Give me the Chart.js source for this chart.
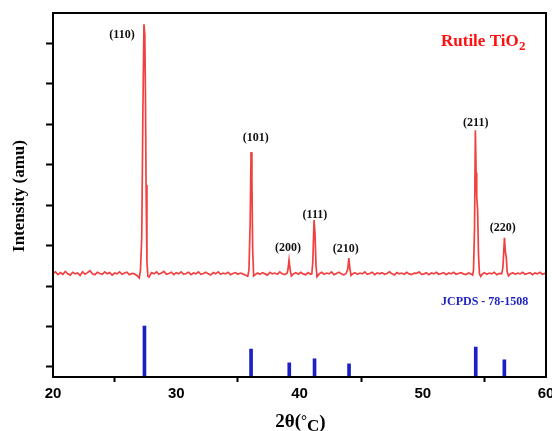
<!DOCTYPE html>
<html>
<head>
<meta charset="utf-8">
<script src="https://cdn.jsdelivr.net/npm/chart.js@4/dist/chart.umd.min.js"></script>
<style>
  html, body { margin: 0; padding: 0; background: #fff; }
  #c { display: block; }
</style>
</head>
<body>
<canvas id="c" width="552" height="431"></canvas>
<script>
// Measured XRD pattern of rutile TiO2 (2θ in degrees, intensity in counts)
const twoTheta = [
  20.0,20.2,20.4,20.6,20.8,21.0,21.2,21.4,21.6,21.8,22.0,22.2,22.4,22.6,22.8,23.0,23.2,23.4,
  23.6,23.8,24.0,24.2,24.4,24.6,24.8,25.0,25.2,25.4,25.6,25.8,26.0,26.2,26.4,26.6,26.8,27.0,
  27.1,27.2,27.3,27.38,27.45,27.5,27.55,27.62,27.7,27.8,27.9,
  28.0,28.2,28.4,28.6,28.8,29.0,29.2,29.4,29.6,29.8,30.0,30.2,30.4,30.6,30.8,31.0,31.2,31.4,
  31.6,31.8,32.0,32.2,32.4,32.6,32.8,33.0,33.2,33.4,33.6,33.8,34.0,34.2,34.4,34.6,34.8,35.0,
  35.2,35.4,35.6,35.8,
  35.9,36.0,36.07,36.14,36.2,36.28,36.4,
  36.6,36.8,37.0,37.2,37.4,37.6,37.8,38.0,38.2,38.4,38.6,38.8,39.0,
  39.07,39.15,39.24,39.34,
  39.5,39.7,39.9,40.1,40.3,40.5,40.7,40.9,
  41.0,41.08,41.18,41.26,41.34,41.42,
  41.6,41.8,42.0,42.2,42.4,42.6,42.8,43.0,43.2,43.4,43.6,43.8,
  43.92,44.0,44.08,44.18,
  44.3,44.5,44.7,44.9,45.1,45.3,45.5,45.7,45.9,46.1,46.3,46.5,46.7,46.9,47.1,47.3,47.5,47.7,
  47.9,48.1,48.3,48.5,48.7,48.9,49.1,49.3,49.5,49.7,49.9,50.1,50.3,50.5,50.7,50.9,51.1,51.3,
  51.5,51.7,51.9,52.1,52.3,52.5,52.7,52.9,53.1,53.3,53.5,53.7,53.9,
  54.05,54.12,54.2,54.27,54.33,54.38,54.45,54.52,54.6,54.7,
  54.85,55.0,55.2,55.4,55.6,55.8,56.0,56.2,56.4,
  56.5,56.58,56.63,56.7,56.78,56.85,56.95,
  57.1,57.3,57.5,57.7,57.9,58.1,58.3,58.5,58.7,58.9,59.1,59.3,59.5,59.7,59.9,60.0
];
const counts = [
  2310,2350,2280,2330,2290,2360,2300,2270,2340,2300,2320,2260,2350,2290,2330,2380,2300,2280,
  2340,2310,2290,2350,2300,2330,2270,2320,2300,2350,2290,2320,2340,2280,2310,2300,2260,2200,
  2400,3200,6500,8470,8200,6800,4500,2600,2240,2220,2280,
  2330,2300,2350,2290,2320,2360,2290,2310,2340,2280,2330,2300,2350,2290,2310,2340,2280,2320,
  2300,2350,2290,2310,2340,2300,2270,2330,2300,2350,2290,2320,2300,2340,2280,2310,2330,2290,
  2320,2300,2270,2240,
  2400,3600,5310,4600,2900,2250,2280,
  2320,2290,2330,2300,2270,2340,2300,2320,2290,2350,2300,2280,2320,
  2420,2640,2400,2250,
  2300,2330,2290,2340,2300,2280,2330,2290,
  2300,2600,3630,3300,2500,2230,
  2300,2340,2290,2320,2300,2350,2280,2310,2340,2300,2270,2320,
  2420,2690,2450,2260,
  2300,2330,2290,2320,2300,2350,2290,2310,2340,2280,2320,2300,2330,2290,2310,2350,2300,2270,
  2330,2300,2320,2290,2340,2300,2280,2320,2310,2350,2290,2300,2330,2280,2320,2300,2340,2290,
  2310,2330,2280,2320,2300,2340,2290,2310,2330,2300,2280,2320,2300,
  2270,2400,3400,5850,4800,4200,3900,2800,2300,2240,
  2300,2330,2290,2320,2300,2340,2280,2310,2300,
  2450,2900,3190,2850,2700,2350,2250,
  2300,2330,2290,2320,2300,2340,2290,2310,2330,2280,2320,2300,2340,2290,2310,2300
];

// Reference stick pattern (JCPDS 78-1508), drawn up from the bottom of the axis
const refAngles = [27.42, 36.07, 39.17, 41.22, 44.02, 54.30, 56.62];
const refTops   = [1010, 440, 100, 200, 75, 490, 175];

// Miller indices of the indexed reflections
const hklLabels = ['(110)', '(101)', '(200)', '(111)', '(210)', '(211)', '(220)'];

// Axis ticks
const xTickValues = [20, 30, 40, 50, 60];
const yTickValues = [0, 1000, 2000, 3000, 4000, 5000, 6000, 7000, 8000];

// Layout: where each index label sits (2θ, counts)
const hklAnchors = [
  [25.6, 8200], [36.46, 5650], [39.06, 2940], [41.25, 3750],
  [43.76, 2910], [54.30, 6030], [56.50, 3430]
];
const Y_MIN = -250, Y_MAX = 8750;

const serif = '"Liberation Serif", "Times New Roman", serif';
const sans = '"Liberation Sans", Arial, sans-serif';

const annotate = {
  id: 'annotate',
  afterDatasetsDraw(chart) {
    const { ctx, chartArea: a, scales: { x, y } } = chart;
    ctx.save();
    // frame
    ctx.strokeStyle = '#000';
    ctx.lineWidth = 2;
    ctx.strokeRect(a.left, a.top, a.right - a.left, a.bottom - a.top);

    // reflection indices
    ctx.fillStyle = '#111';
    ctx.font = 'bold 12px ' + serif;
    ctx.textAlign = 'center';
    ctx.textBaseline = 'middle';
    hklLabels.forEach((t, i) => {
      ctx.fillText(t, x.getPixelForValue(hklAnchors[i][0]), y.getPixelForValue(hklAnchors[i][1]));
    });

    // sample name with subscript
    ctx.textAlign = 'left';
    ctx.textBaseline = 'alphabetic';
    ctx.fillStyle = '#ff1010';
    ctx.font = 'bold 17px ' + serif;
    const nx = a.right - 105, ny = a.top + 33;
    ctx.fillText('Rutile TiO', nx, ny);
    const w = ctx.measureText('Rutile TiO').width;
    ctx.font = 'bold 13px ' + serif;
    ctx.fillText('2', nx + w + 0.5, ny + 4);

    // reference card
    ctx.fillStyle = '#1f24c0';
    ctx.font = 'bold 12px ' + serif;
    ctx.textBaseline = 'middle';
    ctx.fillText('JCPDS - 78-1508', a.right - 105, 302);

    // x-axis title: 2θ(°C)
    ctx.fillStyle = '#000';
    ctx.textBaseline = 'alphabetic';
    ctx.font = 'bold 19px ' + serif;
    const p1 = '2θ(', p2 = '°', p3 = 'C', p4 = ')';
    const w1 = ctx.measureText(p1).width;
    ctx.font = 'bold 15px ' + serif;
    const w2 = ctx.measureText(p2).width;
    ctx.font = 'bold 17px ' + serif;
    const w3 = ctx.measureText(p3).width;
    ctx.font = 'bold 19px ' + serif;
    const w4 = ctx.measureText(p4).width;
    let tx = (a.left + a.right) / 2 + 1 - (w1 + w2 + w3 + w4) / 2;
    const base = 427;
    ctx.fillText(p1, tx, base); tx += w1;
    ctx.font = 'bold 15px ' + serif;
    ctx.fillText(p2, tx, base - 2); tx += w2;
    ctx.font = 'bold 17px ' + serif;
    ctx.fillText(p3, tx, base + 4); tx += w3;
    ctx.font = 'bold 19px ' + serif;
    ctx.fillText(p4, tx, base + 1);

    // y-axis title
    ctx.translate(20, 196);
    ctx.rotate(-Math.PI / 2);
    ctx.textAlign = 'center';
    ctx.textBaseline = 'middle';
    ctx.font = 'bold 17px ' + serif;
    ctx.fillText('Intensity (amu)', 0, 0);
    ctx.restore();
  }
};

new Chart(document.getElementById('c'), {
  type: 'line',
  data: {
    datasets: [
      {
        label: 'Rutile TiO2',
        data: twoTheta.map((t, i) => ({ x: t, y: counts[i] })),
        borderColor: 'rgb(242,64,64)',
        borderWidth: 1.7,
        pointRadius: 0,
        tension: 0,
        fill: false
      },
      {
        type: 'bar',
        label: 'JCPDS 78-1508',
        data: refAngles.map((t, i) => ({ x: t, y: [Y_MIN, refTops[i]] })),
        backgroundColor: '#1a20c2',
        barThickness: 3,
        grouped: false
      }
    ]
  },
  options: {
    responsive: false,
    animation: false,
    devicePixelRatio: 1,
    layout: { padding: { left: 0, top: 13, right: 6, bottom: 0 } },
    plugins: { legend: { display: false }, tooltip: { enabled: false } },
    scales: {
      x: {
        type: 'linear',
        min: 20, max: 60,
        offset: false,
        afterBuildTicks: s => { s.ticks = xTickValues.map(v => ({ value: v })); },
        afterFit: s => { s.height = 54; s.paddingLeft = 0; s.paddingRight = 0; },
        ticks: {
          color: '#000',
          padding: 3,
          maxRotation: 0,
          autoSkip: false,
          font: { family: sans, weight: 'bold', size: 15 }
        },
        grid: { drawOnChartArea: false, drawTicks: true, tickLength: 5, tickWidth: 2, tickColor: '#000' },
        border: { display: true, color: '#000', width: 2 }
      },
      y: {
        type: 'linear',
        min: Y_MIN, max: Y_MAX,
        afterBuildTicks: s => { s.ticks = yTickValues.map(v => ({ value: v })); },
        afterFit: s => { s.width = 53; s.paddingTop = 0; s.paddingBottom = 0; },
        ticks: { display: false },
        grid: { drawOnChartArea: false, drawTicks: true, tickLength: 7, tickWidth: 2, tickColor: '#000' },
        border: { display: true, color: '#000', width: 2 }
      }
    }
  },
  plugins: [annotate]
});
</script>
</body>
</html>
